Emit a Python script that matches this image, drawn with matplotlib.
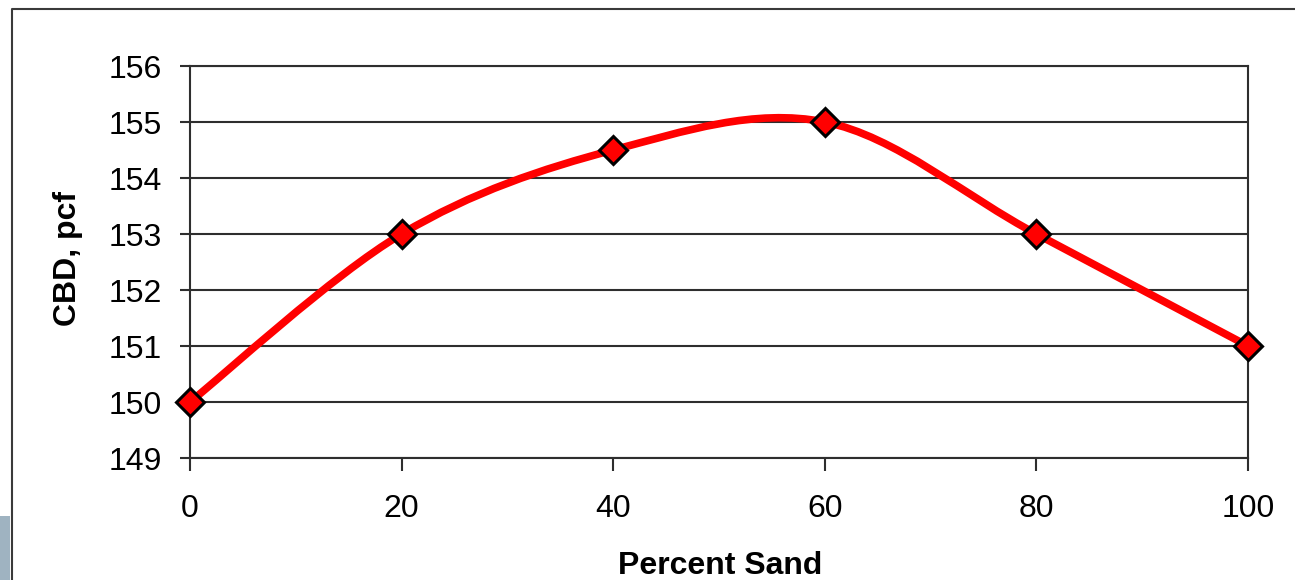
import matplotlib
matplotlib.use("Agg")
import matplotlib.pyplot as plt
from matplotlib.path import Path
from matplotlib.patches import PathPatch, Rectangle
from matplotlib.lines import Line2D

# ---- data ----
percent_sand = [0, 20, 40, 60, 80, 100]
cbd_pcf = [150.0, 153.0, 154.5, 155.0, 153.0, 151.0]
x_ticks = [0, 20, 40, 60, 80, 100]
y_ticks = [149, 150, 151, 152, 153, 154, 155, 156]
x_label = "Percent Sand"
y_label = "CBD, pcf"

plt.rcParams['font.family'] = ['Liberation Sans', 'DejaVu Sans']

W, H = 1295, 580
fig = plt.figure(figsize=(W / 100, H / 100), dpi=100)
fig.patch.set_facecolor('white')

ax = fig.add_axes([190 / W, (H - 458) / H, (1248 - 190) / W, (458 - 66) / H])
ax.set_xlim(0, 100)
ax.set_ylim(149, 156)
ax.set_xticks(x_ticks)
ax.set_yticks(y_ticks)

dark = '#2e2e2e'
for s in ax.spines.values():
    s.set_color(dark)
    s.set_linewidth(1.5)
ax.yaxis.grid(True, color=dark, linewidth=1.5)
ax.set_axisbelow(True)
ax.tick_params(axis='y', direction='out', length=7.2, width=1.5, color=dark,
               labelsize=23, pad=13)
ax.tick_params(axis='x', direction='out', length=9.4, width=1.5, color=dark,
               labelsize=23, pad=16.5)

# Excel-style smoothed line (cubic Bezier through the points)
pts = list(zip(percent_sand, cbd_pcf))
n = len(pts)
verts = [pts[0]]
codes = [Path.MOVETO]
for i in range(n - 1):
    p0 = pts[i - 1] if i > 0 else pts[i]
    p1 = pts[i]
    p2 = pts[i + 1]
    p3 = pts[i + 2] if i + 2 < n else pts[i + 1]
    c1 = (p1[0] + (p2[0] - p0[0]) / 6, p1[1] + (p2[1] - p0[1]) / 6)
    c2 = (p2[0] - (p3[0] - p1[0]) / 6, p2[1] - (p3[1] - p1[1]) / 6)
    verts += [c1, c2, p2]
    codes += [Path.CURVE4] * 3
patch = PathPatch(Path(verts, codes), facecolor='none', edgecolor='#ff0000',
                  linewidth=5.5, capstyle='round', joinstyle='round', zorder=3,
                  transform=ax.transData)
ax.add_patch(patch)

ax.plot(percent_sand, cbd_pcf, linestyle='none', marker='D', markersize=14.5,
        markerfacecolor='#ff0000', markeredgecolor='black', markeredgewidth=2.2,
        zorder=4, clip_on=False)

fig.text(68 / W, (H - 258) / H, y_label, rotation=90, ha='center', va='center',
         fontsize=23, fontweight='bold')
fig.text(720 / W, (H - 574) / H, x_label, ha='center', va='baseline',
         fontsize=23, fontweight='bold')

# outer chart border and side block
fig.add_artist(Line2D([12 / W, 12 / W, 1.0], [0.0, (H - 9) / H, (H - 9) / H],
                      transform=fig.transFigure, color='#3a3a3a', linewidth=1.5))
fig.add_artist(Rectangle((0, 0), 10 / W, 64 / H, transform=fig.transFigure,
                         facecolor='#9fb3c1', edgecolor='none'))

fig.savefig('out.png', dpi=100)
